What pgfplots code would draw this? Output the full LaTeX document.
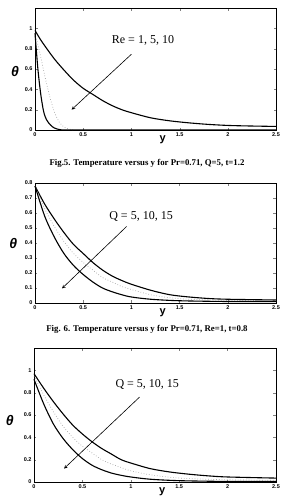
\documentclass[border=0pt]{standalone}
\usepackage{pgfplots}
\pgfplotsset{compat=1.18}
\usepackage{fontspec}
\setmainfont{Liberation Serif}
\setsansfont{Liberation Sans}
\begin{document}
\begin{tikzpicture}
\useasboundingbox (0pt,0pt) rectangle (291pt,-498pt);
\pgfplotsset{
  myax/.style={
    scale only axis, width=241pt,
    xmin=0, xmax=2.5, xtick={0,0.5,1,1.5,2,2.5},
    tick align=inside, axis line style={line width=0.9pt},
    major tick length=2.5pt,
    /pgf/number format/assume math mode=true,
    ticklabel style={font=\fontsize{5.5}{6}\sffamily\bfseries},
    xticklabel style={yshift=1pt},
    yticklabel style={xshift=1pt},
    xlabel={y}, ylabel={\sffamily\bfseries\itshape θ},
    every axis x label/.style={at={(rel axis cs:0.53,0)}, anchor=north, yshift=-2pt, font=\fontsize{11}{11}\sffamily\bfseries},
    every axis y label/.style={at={(rel axis cs:-0.083,0.48)}, anchor=center, font=\fontsize{14}{14}\selectfont},
    clip=false,
  },
  c1/.style={black, line width=1.1pt, smooth},
  c2/.style={gray!70, dotted, line width=0.7pt, smooth},
}
% ---------- plot 1 ----------
\begin{axis}[myax, at={(35pt,-8pt)}, anchor=north west, height=122pt,
  ymin=0, ymax=1.2, ytick={0,0.2,0.4,0.6,0.8,1}]
\addplot[c1] coordinates {(0,0.98)(0.05,0.9)(0.1,0.83)(0.2,0.7)(0.3,0.59)(0.4,0.49)(0.5,0.41)(0.6,0.35)(0.7,0.29)(0.8,0.24)(0.9,0.2)(1,0.17)(1.2,0.12)(1.4,0.09)(1.6,0.07)(1.8,0.055)(2,0.045)(2.2,0.04)(2.5,0.035)};
\addplot[c2] coordinates {(0,0.95)(0.05,0.76)(0.1,0.54)(0.15,0.34)(0.2,0.18)(0.25,0.08)(0.3,0.03)(0.35,0.01)(0.4,0)};
\addplot[c1] coordinates {(0,0.95)(0.03,0.6)(0.06,0.35)(0.09,0.18)(0.12,0.1)(0.16,0.05)(0.2,0.02)(0.25,0.005)(0.3,0)(0.4,0)(2.5,0)};
\draw[-stealth, line width=0.6pt] (axis cs:1.0,0.745) -- (axis cs:0.38,0.2);
\node[font=\fontsize{12}{12}\selectfont] at (axis cs:1.12,0.88) {Re = 1, 5, 10};
\end{axis}
\node[font=\fontsize{8.8}{10}\selectfont\bfseries] at (147pt,-163pt) {Fig.5. Temperature versus y for Pr=0.71, Q=5, t=1.2};
% ---------- plot 2 ----------
\begin{axis}[myax, at={(35pt,-183pt)}, anchor=north west, height=120pt,
  ymin=0, ymax=0.8, ytick={0,0.1,...,0.8},
  every axis y label/.style={at={(rel axis cs:-0.09,0.5)}, anchor=center, font=\fontsize{14}{14}\selectfont}]
\addplot[c1] coordinates {(0,0.78)(0.1,0.66)(0.2,0.56)(0.3,0.47)(0.4,0.39)(0.5,0.33)(0.6,0.27)(0.7,0.22)(0.8,0.18)(0.9,0.15)(1,0.125)(1.2,0.085)(1.4,0.055)(1.6,0.04)(1.8,0.03)(2,0.025)(2.5,0.02)};
\addplot[c2] coordinates {(0,0.78)(0.1,0.63)(0.2,0.51)(0.3,0.41)(0.4,0.33)(0.5,0.27)(0.6,0.22)(0.7,0.17)(0.8,0.14)(0.9,0.11)(1,0.09)(1.2,0.055)(1.4,0.035)(1.6,0.025)(2,0.018)(2.5,0.015)};
\addplot[c1] coordinates {(0,0.78)(0.1,0.58)(0.2,0.44)(0.3,0.33)(0.4,0.25)(0.5,0.19)(0.6,0.14)(0.7,0.1)(0.8,0.075)(0.9,0.055)(1,0.04)(1.2,0.025)(1.5,0.015)(2,0.01)(2.5,0.01)};
\draw[-stealth, line width=0.6pt] (axis cs:0.95,0.51) -- (axis cs:0.28,0.097);
\node[font=\fontsize{12}{12}\selectfont] at (axis cs:1.1,0.58) {Q = 5, 10, 15};
\end{axis}
\node[font=\fontsize{8.8}{10}\selectfont\bfseries] at (147pt,-329pt) {Fig. 6. Temperature versus y for Pr=0.71, Re=1, t=0.8};
% ---------- plot 3 ----------
\begin{axis}[myax, at={(34pt,-348pt)}, anchor=north west, height=134pt, width=242pt,
  ymin=0, ymax=1.2, ytick={0,0.2,0.4,0.6,0.8,1},
  every axis y label/.style={at={(rel axis cs:-0.1,0.46)}, anchor=center, font=\fontsize{14}{14}\selectfont}]
\addplot[c1] coordinates {(0,0.97)(0.1,0.84)(0.2,0.72)(0.3,0.61)(0.4,0.51)(0.5,0.43)(0.6,0.36)(0.7,0.3)(0.8,0.25)(0.9,0.2)(1,0.17)(1.2,0.12)(1.4,0.09)(1.6,0.07)(1.8,0.055)(2,0.045)(2.5,0.035)};
\addplot[c2] coordinates {(0,0.95)(0.1,0.78)(0.2,0.63)(0.3,0.5)(0.4,0.4)(0.5,0.32)(0.6,0.26)(0.7,0.2)(0.8,0.16)(0.9,0.13)(1,0.1)(1.2,0.065)(1.5,0.035)(2,0.02)(2.5,0.015)};
\addplot[c1] coordinates {(0,0.92)(0.1,0.7)(0.2,0.52)(0.3,0.39)(0.4,0.29)(0.5,0.21)(0.6,0.15)(0.7,0.11)(0.8,0.08)(0.9,0.06)(1,0.045)(1.2,0.025)(1.5,0.012)(2,0.005)(2.5,0.005)};
\draw[-stealth, line width=0.6pt] (axis cs:1.09,0.76) -- (axis cs:0.31,0.12);
\node[font=\fontsize{12}{12}\selectfont] at (axis cs:1.17,0.87) {Q = 5, 10, 15};
\end{axis}
\end{tikzpicture}
\end{document}
